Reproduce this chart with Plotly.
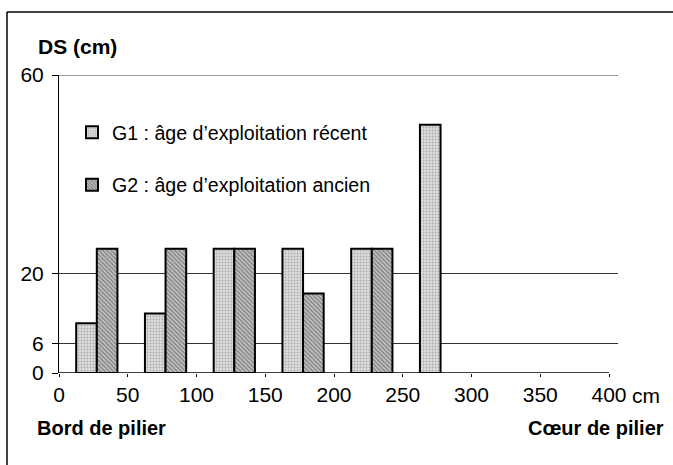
import plotly.graph_objects as go

# Data
g1_x = [20, 70, 120, 170, 220, 270]
g1_y = [10, 12, 25, 25, 25, 50]
g2_x = [35, 85, 135, 185, 235]
g2_y = [25, 25, 25, 16, 25]
g1_name = "G1 : âge d’exploitation récent"
g2_name = "G2 : âge d’exploitation ancien"
y_ticks = [0, 6, 20, 60]
x_ticks = [0, 50, 100, 150, 200, 250, 300, 350, 400]
x_ticktext = ["0", "50", "100", "150", "200", "250", "300", "350", "400"]

FONT = "Liberation Sans, Arial, sans-serif"
W, H = 673, 465
L, R, T, B = 59, 55, 75, 92
PW, PH = W - L - R, H - T - B

def px(xp):
    return (xp - L) / PW

def py(yp):
    return (H - B - yp) / PH

fig = go.Figure()
fig.add_trace(go.Bar(
    x=g1_x, y=g1_y, width=15, name=g1_name, legendgroup="g1",
    marker=dict(color="#d6d6d6", line=dict(color="black", width=2),
                pattern=dict(shape=".", fgcolor="#7a7a7a", bgcolor="#dedede",
                             size=3, solidity=0.35)),
))
fig.add_trace(go.Bar(
    x=g2_x, y=g2_y, width=15, name=g2_name, legendgroup="g2",
    marker=dict(color="#9a9a9a", line=dict(color="black", width=2),
                pattern=dict(shape="\\", fgcolor="#3a3a3a", bgcolor="#c4c4c4",
                             size=3, solidity=0.45)),
))

fig.update_layout(
    width=W, height=H,
    margin=dict(l=L, r=R, t=T, b=B),
    paper_bgcolor="white", plot_bgcolor="white",
    barmode="overlay",
    font=dict(family=FONT, size=20, color="black"),
    showlegend=True,
    legend=dict(x=px(72), y=py(113), xanchor="left", yanchor="top",
                bgcolor="rgba(0,0,0,0)", tracegroupgap=24,
                font=dict(size=19.6), itemwidth=30),
    xaxis=dict(range=[0, PW / 1.375], tickvals=x_ticks, ticktext=x_ticktext,
               showgrid=False, zeroline=False, showline=False,
               ticks="outside", ticklen=3, tickcolor="black",
               tickfont=dict(size=21), ticklabelstandoff=0),
    yaxis=dict(range=[0, 60], tickvals=y_ticks, showgrid=True,
               gridcolor="#333333", gridwidth=1, zeroline=False,
               showline=True, linecolor="black", linewidth=1,
               ticks="outside", ticklen=6, tickcolor="black",
               tickfont=dict(size=21), ticklabelstandoff=4),
)

# top grid line at the axis maximum
fig.add_shape(type="line", xref="paper", yref="y", x0=0, x1=1,
              y0=y_ticks[-1], y1=y_ticks[-1],
              line=dict(color="#333333", width=1), layer="below")
# x-axis baseline from 0 to 400 cm
fig.add_shape(type="line", xref="x", yref="y", x0=0, x1=x_ticks[-1], y0=0, y1=0,
              line=dict(color="black", width=1.5), layer="above")
# Frame lines (left and top)
fig.add_shape(type="line", xref="paper", yref="paper", x0=px(7), x1=px(7),
              y0=py(12), y1=py(465), line=dict(color="black", width=1.5))
fig.add_shape(type="line", xref="paper", yref="paper", x0=px(7), x1=px(673),
              y0=py(12), y1=py(12), line=dict(color="black", width=1.5))

fig.add_annotation(text="cm", xref="x", yref="paper", x=x_ticks[-1], y=py(395),
                   xshift=21, xanchor="left", yanchor="middle", showarrow=False,
                   font=dict(size=21))
fig.add_annotation(text="<b>DS (cm)</b>", xref="paper", yref="paper",
                   x=px(36), y=py(47), xanchor="left", yanchor="middle",
                   showarrow=False, font=dict(size=21))
fig.add_annotation(text="<b>Bord de pilier</b>", xref="paper", yref="paper",
                   x=px(35), y=py(428), xanchor="left", yanchor="middle",
                   showarrow=False, font=dict(size=20))
fig.add_annotation(text="<b>Cœur de pilier</b>", xref="paper", yref="paper",
                   x=px(666), y=py(428), xanchor="right", yanchor="middle",
                   showarrow=False, font=dict(size=20))

fig.write_html("out.html",
               config={"displayModeBar": False},
               post_script="document.body.style.margin='0';"
                           "document.body.style.overflow='hidden';")
